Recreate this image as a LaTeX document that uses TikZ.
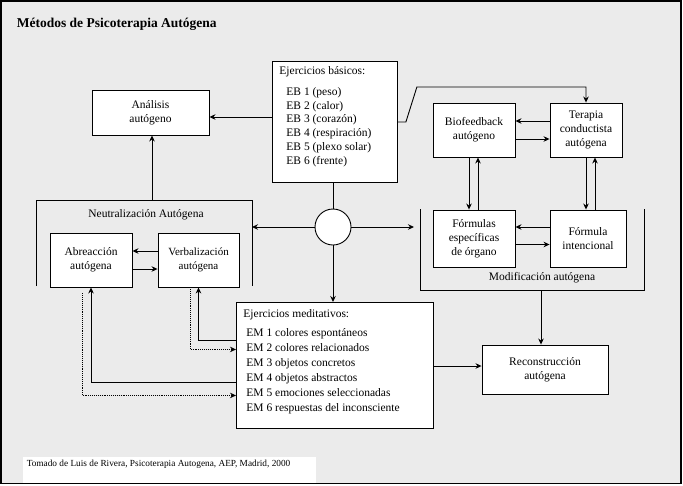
\documentclass[tikz,border=0pt]{standalone}
\usepackage{fontspec}
\setmainfont{Liberation Serif}
\usetikzlibrary{arrows.meta}

\begin{document}
\begin{tikzpicture}[x=1pt,y=-1pt,line width=0.9pt,
        box/.style={draw,fill=white,align=center,inner sep=2pt,font=\fontsize{11.5}{14}\selectfont},
        listbox/.style={draw,fill=white,anchor=north west,inner xsep=7pt,inner ysep=5pt},
        arr/.style={-{Stealth[length=6pt,width=5.5pt]}},
        dotarr/.style={arr,densely dotted},
        lbl/.style={font=\fontsize{11.5}{14}\selectfont}]
        \useasboundingbox (0,0) rectangle (683,485);
        \fill[black!8] (1,1) rectangle (681,483.5);
        \fill[white] (23,457) rectangle (316,483.5);
        \draw[line width=1.2pt] (1,1) rectangle (681,483.5);
        \node[anchor=base west,font=\bfseries\fontsize{13.5}{16}\selectfont] (titulo) at (13,27) {Métodos de Psicoterapia Autógena};
        % cajas
        \node[listbox,font=\fontsize{11.5}{13.8}\selectfont] (basicos) at (272,61)
        {\parbox[t][111pt][t]{111pt}{Ejercicios básicos:\\[7pt]\hspace*{7pt}EB 1 (peso)\\\hspace*{7pt}EB 2 (calor)\\\hspace*{7pt}EB 3 (corazón)\\\hspace*{7pt}EB 4 (respiración)\\\hspace*{7pt}EB 5 (plexo solar)\\\hspace*{7pt}EB 6 (frente)}};
        \node[box,minimum width=117pt,minimum height=45pt] (analisis) at (150.5,112.5) {Análisis\\autógeno};
        \node[draw,fill=white,circle,minimum size=36pt,inner sep=0pt] (centro) at (333,227) {};
        \node[box,minimum width=82pt,minimum height=54pt] (abreaccion) at (91,260) {Abreacción\\autógena};
        \node[box,minimum width=81pt,minimum height=54pt,font=\fontsize{11}{14}\selectfont] (verbal) at (198.5,260) {Verbalización\\autógena};
        \node[listbox,inner ysep=7pt,font=\fontsize{11.5}{15}\selectfont] (meditativos) at (236,302)
        {\parbox[t][112pt][t]{183pt}{Ejercicios meditativos:\\[4pt]\hspace*{3pt}EM 1 colores espontáneos\\\hspace*{3pt}EM 2 colores relacionados\\\hspace*{3pt}EM 3 objetos concretos\\\hspace*{3pt}EM 4 objetos abstractos\\\hspace*{3pt}EM 5 emociones seleccionadas\\\hspace*{3pt}EM 6 respuestas del inconsciente}};
        \node[box,minimum width=82pt,minimum height=54pt] (biofeed) at (474,130) {Biofeedback\\autógeno};
        \node[box,minimum width=72pt,minimum height=54pt] (terapia) at (586,130) {Terapia\\conductista\\autógena};
        \node[box,minimum width=82pt,minimum height=57pt] (especif) at (474,238.5) {Fórmulas\\específicas\\de órgano};
        \node[box,minimum width=76pt,minimum height=57pt] (intenc) at (588,238.5) {Fórmula\\intencional};
        \node[box,minimum width=126pt,minimum height=49pt] (reconst) at (545,369.5) {Reconstrucción\\autógena};
        % grupos
        \coordinate (neutR) at (252,227);
        \coordinate (neutT) at (152,200);
        \coordinate (modifL) at (414,227);
        \coordinate (modifB) at (541,290);
        \draw (36,286) -- (36,200) -- (252,200) -- (252,286);
        \node[lbl] (neutlbl) at (146,215) {Neutralización Autógena};
        \draw (420,209) -- (420,290) -- (644,290) -- (644,209);
        \node[lbl] (modiflbl) at (542,278) {Modificación autógena};
        % conexiones
        \draw[arr] (basicos.west |- 0,117) -- (analisis.east |- 0,117);
        \draw (centro.north |- basicos.south) -- (centro.north);
        \draw[arr] (centro.west) -- (neutR);
        \draw[arr] (centro.east) -- (modifL);
        \draw[arr] (centro.south) -- (centro.south |- meditativos.north);
        \draw[arr] (neutT) -- (neutT |- analisis.south);
        \draw[arr] (basicos.east) -- ++(8,0) -- ++(11,-35) -| (terapia.north);
        \draw[arr] ([yshift=9pt]verbal.west) -- ([yshift=9pt]abreaccion.east);
        \draw[arr] ([yshift=-9pt]abreaccion.east) -- ([yshift=-9pt]verbal.west);
        \draw[arr] ([yshift=9pt]terapia.west) -- ([yshift=9pt]biofeed.east);
        \draw[arr] ([yshift=-9pt]biofeed.east) -- ([yshift=-9pt]terapia.west);
        \draw[arr] ([yshift=11.5pt]intenc.west) -- ([yshift=11.5pt]especif.east);
        \draw[arr] ([yshift=-6pt]especif.east) -- ([yshift=-6pt]intenc.west);
        \draw[arr] ([xshift=-5pt]biofeed.south) -- ([xshift=-5pt]especif.north);
        \draw[arr] ([xshift=4pt]especif.north) -- ([xshift=4pt]biofeed.south);
        \draw[arr] (terapia.south) -- (terapia.south |- intenc.north);
        \draw[arr] ([xshift=9pt]terapia.south |- intenc.north) -- ([xshift=9pt]terapia.south);
        \draw[arr] (modifB) -- (modifB |- reconst.north);
        \draw[arr] ([yshift=3.5pt]reconst.west -| meditativos.east) -- ([yshift=3.5pt]reconst.west);
        \draw[arr] ([yshift=25pt]meditativos.west) -| (verbal.south);
        \draw[dotarr] ([xshift=-8.5pt]verbal.south) |- ([yshift=16pt]meditativos.west);
        \draw[arr] ([yshift=-17pt]meditativos.west) -| (abreaccion.south);
        \draw[dotarr] ([xshift=-9pt,yshift=-6pt]abreaccion.south) |- ([yshift=-30pt]meditativos.west);
        \node[anchor=base west,font=\fontsize{9.3}{11}\selectfont] (fuente) at (23,466) {Tomado de Luis de Rivera, Psicoterapia Autogena, AEP, Madrid, 2000};
\end{tikzpicture}
\end{document}
